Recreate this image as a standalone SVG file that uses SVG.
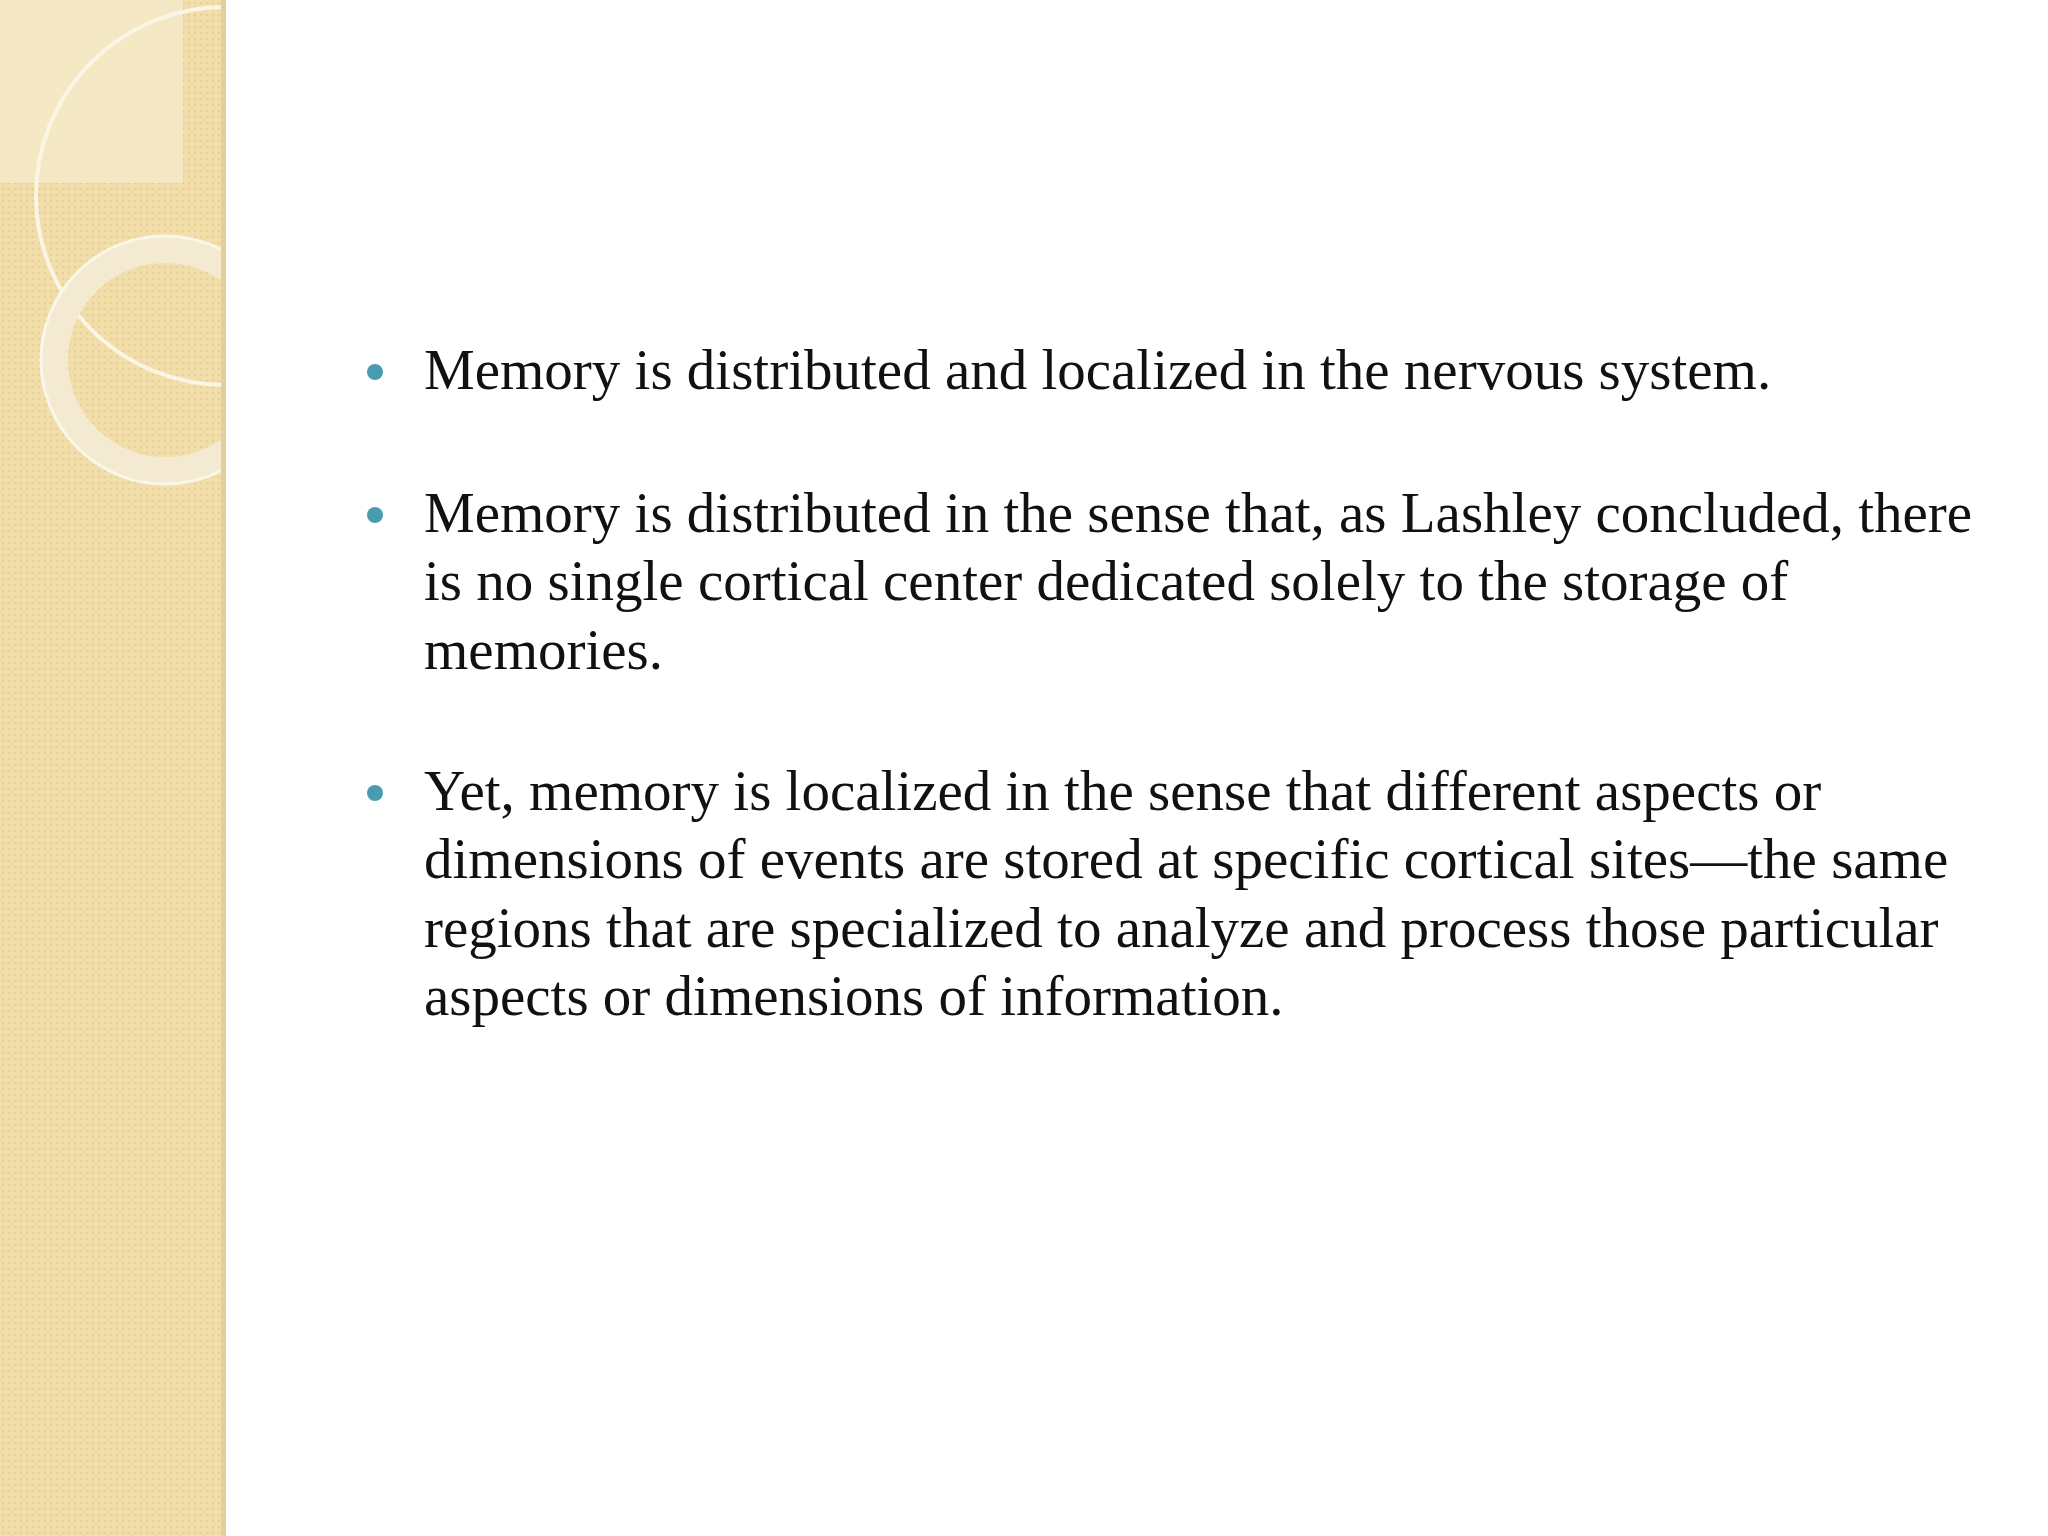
<svg xmlns="http://www.w3.org/2000/svg" width="2048" height="1536" viewBox="0 0 2048 1536">
<defs>
<pattern id="dots" width="6" height="6" patternUnits="userSpaceOnUse"><rect width="6" height="6" fill="#f1deaa"/><circle cx="3" cy="3" r="1.3" fill="#e8d193"/></pattern>
<clipPath id="side"><rect x="0" y="0" width="226" height="1536"/></clipPath>
<style>.t{font-family:"Liberation Serif",serif;font-size:57px;fill:#111}.b{fill:#4a9bb0}</style>
</defs>
<rect width="2048" height="1536" fill="#ffffff"/>
<g id="sidebar" clip-path="url(#side)">
<rect x="0" y="0" width="226" height="1536" fill="url(#dots)"/>
<rect x="0" y="0" width="183" height="183" fill="#f6ebcc" opacity="0.8"/>
<circle cx="225" cy="196" r="189" fill="none" stroke="#fbf5e6" stroke-width="4"/>
<circle cx="165" cy="360" r="110" fill="none" stroke="#f4ead2" stroke-width="26"/>
<circle cx="165" cy="360" r="124" fill="none" stroke="#fbf6ea" stroke-width="3"/>
<rect x="221" y="0" width="5" height="1536" fill="#e3cf9c"/>
</g>
<g id="text">
<circle class="b" cx="375" cy="372" r="8"/>
<text class="t" x="424" y="389">Memory is distributed and localized in the nervous system.</text>
<circle class="b" cx="375" cy="515" r="8"/>
<text class="t" x="424" y="532">Memory is distributed in the sense that, as Lashley concluded, there</text>
<text class="t" x="424" y="600">is no single cortical center dedicated solely to the storage of</text>
<text class="t" x="424" y="669">memories.</text>
<circle class="b" cx="375" cy="793" r="8"/>
<text class="t" x="424" y="810">Yet, memory is localized in the sense that different aspects or</text>
<text class="t" x="424" y="878">dimensions of events are stored at specific cortical sites—the same</text>
<text class="t" x="424" y="947">regions that are specialized to analyze and process those particular</text>
<text class="t" x="424" y="1015">aspects or dimensions of information.</text>
</g>
</svg>
